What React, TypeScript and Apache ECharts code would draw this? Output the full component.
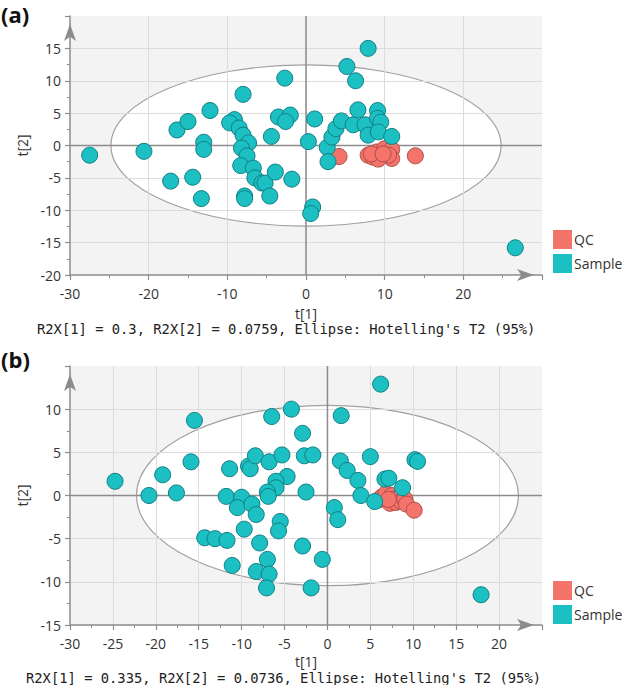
import React, { useEffect, useRef } from 'react';
import * as echarts from 'echarts';

// ---------- data (a) ----------
const qcA: number[][] = [
  [4.2, -1.7], [13.9, -1.6], [7.9, -1.5], [8.5, -1.8], [9.0, -1.0], [9.6, -1.3], [10.0, -0.5],
  [10.9, -0.6], [10.9, -2.0], [10.5, -1.5], [9.2, -2.1], [8.3, -1.3], [9.8, -1.3],
];
const sampleA: number[][] = [
  [-27.5, -1.5], [-20.6, -0.9], [-16.4, 2.4], [-15.0, 3.7], [-12.2, 5.4], [-13.0, 0.5], [-13.0, -0.6],
  [-8.0, 7.9], [-9.1, 4.0], [-9.7, 3.5], [-8.5, 2.7], [-8.0, 1.6], [-7.3, 0.4], [-8.2, -0.4],
  [-7.5, -1.6], [-8.3, -3.1], [-6.7, -3.5], [-6.5, -5.0], [-5.6, -5.8], [-5.2, -5.8], [-3.9, -4.1],
  [-1.8, -5.2], [-4.6, -7.8], [-7.8, -7.8], [-7.8, -8.2], [-13.3, -8.2], [-14.4, -4.9], [-17.2, -5.5],
  [-2.7, 10.4], [-3.5, 4.4], [-2.0, 4.7], [-2.6, 3.7], [-4.4, 1.4], [0.3, 0.6], [1.1, 4.1],
  [0.85, -9.5], [0.6, -10.5], [2.7, -0.3], [2.8, -2.5], [3.3, 1.3], [3.8, 2.6], [4.5, 3.8],
  [6.0, 3.2], [7.5, 3.2], [7.9, 1.6], [6.6, 5.5], [9.1, 5.4], [9.1, 4.2], [9.5, 3.6], [9.2, 2.1],
  [10.9, 1.4], [7.9, 15.0], [5.2, 12.2], [6.3, 10.0], [26.6, -15.8],
];
const ellipseA = [24.8, 12.45];
const xAxisA = [-30, 30, 10];
const yAxisA = [-20, 20, 5];
const captionA = "R2X[1] = 0.3, R2X[2] = 0.0759, Ellipse: Hotelling's T2 (95%)";

// ---------- data (b) ----------
const qcB: number[][] = [
  [6.0, -0.5], [6.3, -0.2], [6.8, 0.2], [7.3, -0.9], [7.5, 0.0], [7.8, -0.4], [8.0, -0.8],
  [8.4, -0.3], [8.6, -0.7], [9.0, -0.4], [9.2, -1.0], [10.1, -1.7], [7.1, -0.45],
];
const sampleB: number[][] = [
  [-24.75, 1.65], [-20.8, 0.0], [-19.2, 2.4], [-17.6, 0.3], [-15.5, 8.7], [-15.9, 3.9], [-11.4, 3.1],
  [-11.8, -0.1], [-9.2, 3.4], [-9.0, 3.1], [-8.4, 4.6], [-6.8, 3.9], [-6.5, 9.15], [-5.3, 4.7],
  [-4.2, 10.0], [-2.9, 7.2], [-2.7, 4.6], [-1.7, 4.7], [-4.7, 2.2], [-6.0, 1.65], [-6.0, 0.9],
  [-7.0, 0.4], [-6.9, -0.1], [-2.5, 0.4], [-10.0, -0.2], [-10.5, -1.4], [-8.8, -1.0], [-8.3, -2.2],
  [-5.5, -3.0], [-5.7, -4.1], [-9.7, -3.9], [-14.3, -4.9], [-13.1, -5.0], [-11.7, -5.2], [-7.9, -5.5],
  [-2.9, -5.85], [-11.1, -8.1], [-7.0, -7.4], [-8.3, -8.8], [-6.8, -9.1], [-7.1, -10.7], [-1.9, -10.7],
  [-0.6, -7.4], [0.8, -1.4], [1.2, -2.8], [17.9, -11.5], [6.2, 12.9], [1.6, 9.25], [1.5, 4.0],
  [2.3, 2.9], [3.55, 1.75], [3.9, 0.0], [5.0, 4.5], [6.7, 1.9], [7.15, 2.0], [8.75, 0.9],
  [10.2, 4.15], [10.5, 3.95], [5.5, -0.7],
];
const ellipseB = [22.25, 10.45];
const xAxisB = [-30, 25, 5];
const yAxisB = [-15, 15, 5];
const captionB = "R2X[1] = 0.335, R2X[2] = 0.0736, Ellipse: Hotelling's T2 (95%)";

const seriesNames = ['QC', 'Sample'];

const QC_FILL = '#F4736B';
const QC_BORDER = '#B04E48';
const S_FILL = '#1CBFC2';
const S_BORDER = '#107F84';
const AXIS_COLOR = '#8C8C8C';
const FONT = "'Open Sans', 'Noto Sans', sans-serif";

function makeXAxis(gi: number, r: number[], gap: number) {
  return {
    type: 'value', gridIndex: gi, min: r[0], max: r[1], interval: r[2],
    name: 't[1]', nameLocation: 'middle', nameGap: gap,
    nameTextStyle: { fontSize: 14, color: '#333', fontFamily: FONT, lineHeight: 14 },
    axisLine: { show: true, onZero: false, symbol: ['none', 'arrow'], symbolSize: [9, 17], symbolOffset: [0, -8],
      lineStyle: { color: AXIS_COLOR, width: 1.5 } },
    axisTick: { show: true, length: 5, lineStyle: { color: AXIS_COLOR, width: 1.2 } },
    minorTick: { show: true, splitNumber: 2, length: 3, lineStyle: { color: AXIS_COLOR, width: 1 } },
    axisLabel: { fontSize: 14, color: '#333', margin: 11, lineHeight: 15, showMaxLabel: false, fontFamily: FONT },
    splitLine: { show: true, showMinLine: false, showMaxLine: false, lineStyle: { color: '#DCDCDC', width: 1 } },
  };
}
function makeYAxis(gi: number, r: number[]) {
  return {
    type: 'value', gridIndex: gi, min: r[0], max: r[1], interval: r[2],
    name: 't[2]', nameLocation: 'middle', nameGap: 37,
    nameTextStyle: { fontSize: 14, color: '#333', fontFamily: FONT },
    axisLine: { show: true, onZero: false, symbol: ['none', 'arrow'], symbolSize: [9, 17], symbolOffset: [0, -8],
      lineStyle: { color: AXIS_COLOR, width: 1.5 } },
    axisTick: { show: true, length: 5, lineStyle: { color: AXIS_COLOR, width: 1.2 } },
    minorTick: { show: true, splitNumber: 2, length: 3, lineStyle: { color: AXIS_COLOR, width: 1 } },
    axisLabel: { fontSize: 14, color: '#333', margin: 9, showMaxLabel: false, fontFamily: FONT },
    splitLine: { show: true, showMinLine: false, showMaxLine: false, lineStyle: { color: '#DCDCDC', width: 1 } },
  };
}

function backgroundSeries(idx: number, ell: number[], xr: number[], yr: number[]) {
  return {
    type: 'custom', xAxisIndex: idx, yAxisIndex: idx, z: -1, silent: true,
    data: [ell],
    renderItem: (params: any, api: any) => {
      const p0 = api.coord([xr[0], yr[1]]);
      const p1 = api.coord([xr[1], yr[0]]);
      const c = api.coord([0, 0]);
      const ex = api.coord([api.value(0), 0]);
      const ey = api.coord([0, api.value(1)]);
      return {
        type: 'group',
        children: [
          { type: 'rect', shape: { x: p0[0], y: p0[1], width: p1[0] - p0[0], height: p1[1] - p0[1] },
            style: { fill: '#F3F3F3' } },
          { type: 'ellipse', shape: { cx: c[0], cy: c[1], rx: ex[0] - c[0], ry: c[1] - ey[1] },
            style: { fill: '#FFFFFF', stroke: '#A0A0A0', lineWidth: 1.2 } },
        ],
      };
    },
  };
}

function zeroLineSeries(idx: number, xr: number[], yr: number[]) {
  return {
    type: 'custom', xAxisIndex: idx, yAxisIndex: idx, z: 1, silent: true,
    data: [[0, 0]],
    renderItem: (params: any, api: any) => {
      const v0 = api.coord([0, yr[0]]);
      const v1 = api.coord([0, yr[1]]);
      const h0 = api.coord([xr[0], 0]);
      const h1 = api.coord([xr[1], 0]);
      return {
        type: 'group',
        children: [
          { type: 'line', shape: { x1: v0[0], y1: v0[1], x2: v1[0], y2: v1[1] }, style: { stroke: AXIS_COLOR, lineWidth: 1.5 } },
          { type: 'line', shape: { x1: h0[0], y1: h0[1], x2: h1[0], y2: h1[1] }, style: { stroke: AXIS_COLOR, lineWidth: 1.5 } },
        ],
      };
    },
  };
}

function scatter(idx: number, name: string, data: number[][], fill: string, border: string) {
  return {
    type: 'scatter', name, xAxisIndex: idx, yAxisIndex: idx, z: 2,
    symbol: 'circle', symbolSize: 16, data,
    itemStyle: { color: fill, borderColor: border, borderWidth: 1, opacity: 1 },
  };
}

function legend(top: number) {
  return {
    data: seriesNames, orient: 'vertical', left: 553, top, itemWidth: 19, itemHeight: 19, itemGap: 5,
    icon: 'rect', padding: 0, selectedMode: false,
    itemStyle: { borderWidth: 0 },
    textStyle: { fontSize: 14, color: '#333', fontFamily: FONT, padding: [0, 0, 0, -3] },
  };
}

export default function App() {
  const ref = useRef<HTMLDivElement>(null);
  useEffect(() => {
    document.body.style.margin = '0';
    const chart = echarts.init(ref.current!, null, { renderer: 'svg' });
    const option: any = {
      animation: false,
      textStyle: { fontFamily: FONT },
      grid: [
        { left: 70, top: 16, width: 472, height: 259 },
        { left: 70, top: 366, width: 472, height: 259 },
      ],
      xAxis: [makeXAxis(0, xAxisA, 31), makeXAxis(1, xAxisB, 29)],
      yAxis: [makeYAxis(0, yAxisA), makeYAxis(1, yAxisB)],
      legend: [legend(230), legend(581)],
      series: [
        backgroundSeries(0, ellipseA, xAxisA, yAxisA),
        zeroLineSeries(0, xAxisA, yAxisA),
        scatter(0, seriesNames[0], qcA, QC_FILL, QC_BORDER),
        scatter(0, seriesNames[1], sampleA, S_FILL, S_BORDER),
        backgroundSeries(1, ellipseB, xAxisB, yAxisB),
        zeroLineSeries(1, xAxisB, yAxisB),
        scatter(1, seriesNames[0], qcB, QC_FILL, QC_BORDER),
        scatter(1, seriesNames[1], sampleB, S_FILL, S_BORDER),
      ],
      graphic: [
        { type: 'text', left: 1, top: 3, style: { text: '(a)', font: `bold 22px ${FONT}`, fill: '#111' } },
        { type: 'text', left: 1, top: 348, style: { text: '(b)', font: `bold 22px ${FONT}`, fill: '#111' } },
        { type: 'text', left: 37, top: 322, style: { text: captionA, font: "13.8px 'DejaVu Sans Mono', monospace", fill: '#222' } },
        { type: 'text', left: 26, top: 671, style: { text: captionB, font: "13.8px 'DejaVu Sans Mono', monospace", fill: '#222' } },
      ],
    };
    chart.setOption(option);
    return () => chart.dispose();
  }, []);
  return <div ref={ref} style={{ width: 622, height: 685 }} />;
}
